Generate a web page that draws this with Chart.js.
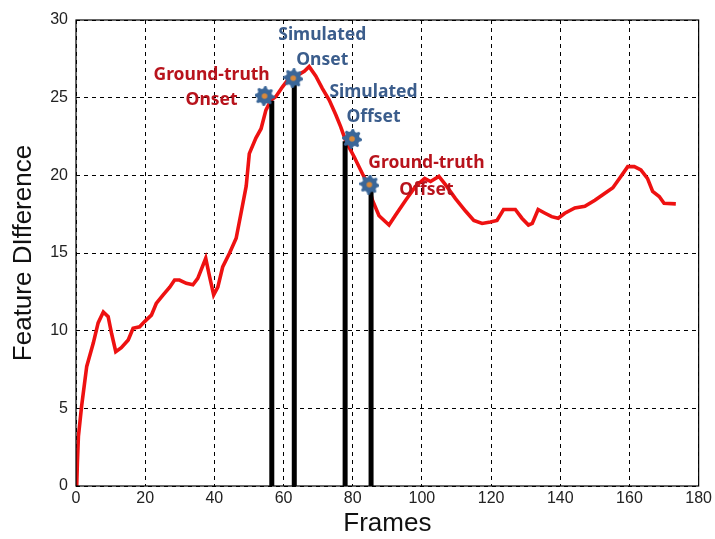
<!DOCTYPE html>
<html>
<head>
<meta charset="utf-8">
<script src="https://cdn.jsdelivr.net/npm/chart.js@4/dist/chart.umd.min.js"></script>
<style>
  html, body { margin: 0; padding: 0; background: #fff; }
  #wrap { width: 715px; height: 539px; position: relative; }
</style>
</head>
<body>
<div id="wrap"><canvas id="c" width="715" height="539"></canvas></div>
<script>
// ---- data ----
const frames = [0.2, 0.4, 0.7, 1.6, 3.1, 5, 6.4, 7.9, 9.3, 10.3, 11.5, 13.1, 15.1, 16.5, 18.4, 19.9, 21.8, 23.2, 25.2, 27.1, 28.5, 29.9, 31.9, 33.8, 35.2, 37.5, 38.6, 39.8, 41, 42.4, 44.4, 46.3, 47.7, 49.2, 50.1, 52.0, 53.5, 54.9, 56.4, 57.8, 59.7, 61.6, 64.5, 66, 67.4, 69.3, 71.2, 73.2, 75.1, 76.5, 78, 80.4, 82.8, 84.5, 85.7, 87.6, 90.5, 92.4, 95.3, 98.2, 100.8, 102.5, 104.9, 106.8, 109.7, 112.6, 115, 117.4, 119.8, 121.7, 123.6, 125.5, 127, 128.9, 130.8, 131.9, 133.6, 135.6, 137.5, 139.4, 141.3, 144.2, 147.1, 150, 152.9, 155.2, 157.1, 159.5, 161.4, 163.3, 165.2, 166.7, 168.6, 170, 173.4];
const featureDiff = [0, 1.5, 3.2, 5.1, 7.7, 9.2, 10.5, 11.2, 10.9, 9.8, 8.65, 8.9, 9.4, 10.15, 10.25, 10.6, 11.0, 11.75, 12.3, 12.8, 13.26, 13.26, 13.05, 12.95, 13.37, 14.66, 13.5, 12.3, 12.8, 14.1, 15.0, 15.95, 17.56, 19.3, 21.4, 22.4, 23.0, 24.2, 24.85, 25.07, 25.7, 26.25, 26.5, 26.7, 27.0, 26.4, 25.6, 24.85, 23.9, 23.14, 22.2, 21.2, 20.1, 19.4, 18.4, 17.4, 16.8, 17.45, 18.4, 19.3, 19.8, 19.6, 19.93, 19.4, 18.5, 17.7, 17.1, 16.9, 17.0, 17.1, 17.8, 17.8, 17.8, 17.24, 16.8, 16.9, 17.8, 17.56, 17.34, 17.24, 17.56, 17.9, 18.0, 18.4, 18.85, 19.2, 19.8, 20.56, 20.56, 20.35, 19.8, 18.96, 18.64, 18.2, 18.16];

const eventNames = ['Ground-truth Onset', 'Simulated Onset', 'Simulated Offset', 'Ground-truth Offset'];
const eventFrames = [56.6, 63.1, 77.8, 85.3];
const eventTops = [24.8, 25.9, 22.2, 19.3];
const markerFrames = [54.5, 62.8, 79.8, 84.8];
const markerValues = [25.1, 26.25, 22.35, 19.4];

// annotation labels: [line1, line2], anchor in data units
const labelLines = [['Ground-truth', 'Onset'], ['Simulated', 'Onset'], ['Simulated', 'Offset'], ['Ground-truth', 'Offset']];
const labelX = [39.2, 71.2, 86.0, 101.3];
const labelY1 = [26.46, 29.04, 25.37, 20.8];
const labelY2 = [24.85, 27.43, 23.76, 19.06];
const labelKind = ['gt', 'sim', 'sim', 'gt'];

const xTicks = [0, 20, 40, 60, 80, 100, 120, 140, 160, 180];
const yTicks = [0, 5, 10, 15, 20, 25, 30];

// ---- marker image ----
function gearMarker(size) {
  const c = document.createElement('canvas');
  c.width = c.height = size;
  const g = c.getContext('2d');
  const r = size / 2;
  g.translate(r, r);
  g.fillStyle = '#3a6698';
  g.beginPath();
  const n = 8;
  for (let i = 0; i < n * 4; i++) {
    const a = i * Math.PI * 2 / (n * 4);
    const rr = (i % 4 < 2) ? r : r * 0.76;
    const px = rr * Math.cos(a), py = rr * Math.sin(a);
    if (i === 0) g.moveTo(px, py); else g.lineTo(px, py);
  }
  g.closePath();
  g.fill();
  g.fillStyle = '#d9893a';
  g.beginPath();
  g.arc(0, 0, r * 0.28, 0, Math.PI * 2);
  g.fill();
  return c;
}
const marker = gearMarker(20);

// ---- datasets ----
const curve = frames.map((f, i) => ({ x: f, y: featureDiff[i] }));
const datasets = [];
datasets.push({
  label: 'Feature Difference',
  data: curve,
  showLine: true,
  borderColor: '#ee1111',
  borderWidth: 3.6,
  pointRadius: 0,
  tension: 0,
  order: 3
});
eventFrames.forEach((f, i) => {
  datasets.push({
    label: eventNames[i],
    data: [{ x: f, y: 0 }, { x: f, y: eventTops[i] }],
    showLine: true,
    borderColor: '#000',
    borderWidth: 5,
    borderCapStyle: 'butt',
    pointRadius: 0,
    order: 2
  });
});
datasets.push({
  label: 'Markers',
  data: markerFrames.map((f, i) => ({ x: f, y: markerValues[i] })),
  showLine: false,
  pointStyle: marker,
  pointRadius: 10,
  order: 1
});

// ---- plugins ----
const framePlugin = {
  id: 'frame',
  afterDraw(chart) {
    const { ctx, chartArea: a } = chart;
    ctx.save();
    ctx.strokeStyle = '#000';
    ctx.lineWidth = 1.2;
    ctx.setLineDash([]);
    ctx.strokeRect(a.left, a.top, a.right - a.left, a.bottom - a.top);
    ctx.restore();
  }
};
const labelPlugin = {
  id: 'eventLabels',
  afterDatasetsDraw(chart) {
    const { ctx, scales } = chart;
    ctx.save();
    ctx.font = 'bold 17.5px "Noto Sans", "Open Sans", sans-serif';
    ctx.textAlign = 'center';
    ctx.textBaseline = 'middle';
    labelLines.forEach((lines, i) => {
      ctx.fillStyle = labelKind[i] === 'gt' ? '#b8131c' : '#3b5d8c';
      const px = scales.x.getPixelForValue(labelX[i]);
      ctx.fillText(lines[0], px, scales.y.getPixelForValue(labelY1[i]));
      ctx.fillText(lines[1], px, scales.y.getPixelForValue(labelY2[i]));
    });
    ctx.restore();
  }
};

Chart.defaults.font.family = '"Liberation Sans", Arial, sans-serif';
Chart.defaults.color = '#222';

new Chart(document.getElementById('c'), {
  type: 'scatter',
  data: { datasets },
  options: {
    responsive: false,
    animation: false,
    devicePixelRatio: 1,
    layout: { padding: { top: 20, right: 14, left: 0, bottom: 0 } },
    plugins: { legend: { display: false }, tooltip: { enabled: false } },
    scales: {
      x: {
        type: 'linear', min: 0, max: 180,
        afterBuildTicks(s) { s.ticks = xTicks.map(v => ({ value: v })); },
        afterFit(s) { s.height = 53; },
        ticks: { font: { size: 16 }, color: '#222', padding: 3, maxRotation: 0 },
        grid: { color: '#000', lineWidth: 1, drawTicks: false },
        border: { display: false, dash: [4, 4] },
        title: { display: true, text: 'Frames', font: { size: 26 }, color: '#111', padding: { top: 0, bottom: 0 } }
      },
      y: {
        type: 'linear', min: 0, max: 30,
        afterBuildTicks(s) { s.ticks = yTicks.map(v => ({ value: v })); },
        afterFit(s) { s.width = 76; },
        ticks: { font: { size: 16 }, color: '#222', padding: 8 },
        grid: { color: '#000', lineWidth: 1, drawTicks: false },
        border: { display: false, dash: [4, 4] },
        title: { display: true, text: 'Feature DIfference', font: { size: 26 }, color: '#111', padding: { top: 8, bottom: 0 } }
      }
    }
  },
  plugins: [framePlugin, labelPlugin]
});
</script>
</body>
</html>
